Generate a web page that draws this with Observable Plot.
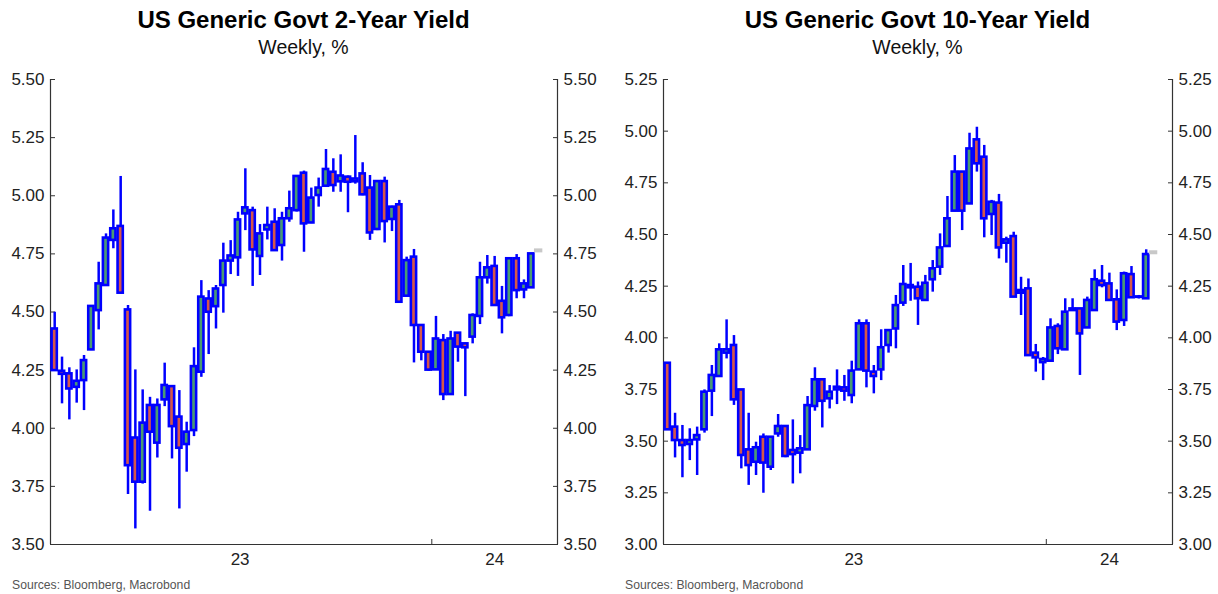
<!DOCTYPE html>
<html><head><meta charset="utf-8">
<script src="https://cdn.jsdelivr.net/npm/d3@7"></script>
<script src="https://cdn.jsdelivr.net/npm/@observablehq/plot@0.6"></script>
<style>
body{margin:0;background:#fff;font-family:"Liberation Sans",Arial,sans-serif;}
#wrap{display:flex;width:1218px;height:594px;overflow:hidden;}
.panel{position:relative;width:609px;height:594px;}
.title{position:absolute;top:6px;height:28px;line-height:28px;font-weight:bold;font-size:24px;text-align:center;color:#000;white-space:nowrap;}
.subtitle{position:absolute;top:35px;height:24px;line-height:24px;font-size:19.5px;text-align:center;color:#111;white-space:nowrap;}
.chart{position:absolute;top:60px;left:0;}
.source{position:absolute;top:578px;font-size:12.2px;color:#555;white-space:nowrap;}
</style></head>
<body><div id="wrap"><div class="panel" id="p2"></div><div class="panel" id="p10"></div></div>
<script>
// ---- data ----
const firstWeek = "2023-01-06";   // weekly candles (Fridays)
const weekCount = 66;
const xStart = "2023-01-02", xEnd = "2024-04-30";
const yearTickDate = "2024-01-01";
const yearLabels = ["23", "24"];
const yearLabelDates = ["2023-07-02", "2024-03-01"];

const open2  = [4.427,4.245,4.234,4.176,4.205,4.337,4.506,4.614,4.808,4.868,4.509,3.958,3.768,4.098,3.936,4.122,4.179,4.048,3.930,3.990,4.241,4.556,4.523,4.614,4.719,4.733,4.922,4.936,4.739,4.853,4.886,4.786,4.901,4.936,5.097,4.883,5.001,5.041,5.101,5.060,5.080,5.060,5.094,5.033,4.855,5.061,4.898,4.961,4.568,4.736,4.442,4.327,4.251,4.377,4.145,4.409,4.363,4.392,4.481,4.647,4.696,4.546,4.485,4.729,4.595,4.604];
const high2  = [4.499,4.306,4.260,4.251,4.313,4.528,4.714,4.836,4.939,5.083,4.528,4.251,4.165,4.133,4.126,4.280,4.180,4.162,4.026,4.346,4.635,4.592,4.614,4.796,4.807,4.929,5.116,4.951,4.876,4.951,4.944,4.929,5.020,5.087,5.106,5.033,5.076,5.199,5.159,5.176,5.085,5.259,5.142,5.087,5.061,5.080,4.955,4.980,4.736,4.769,4.445,4.330,4.481,4.403,4.417,4.411,4.365,4.492,4.714,4.743,4.739,4.610,4.729,4.747,4.638,4.750];
const low2   = [4.245,4.105,4.036,4.108,4.076,4.334,4.423,4.610,4.772,4.578,3.715,3.567,3.760,3.643,3.872,4.093,3.868,3.653,3.811,3.964,4.219,4.317,4.427,4.495,4.661,4.653,4.850,4.610,4.657,4.810,4.764,4.719,4.886,4.930,4.757,4.880,4.951,5.040,5.015,5.015,4.927,5.050,5.000,4.808,4.850,4.797,4.846,4.540,4.565,4.281,4.290,4.245,4.250,4.119,4.143,4.284,4.136,4.363,4.446,4.620,4.528,4.406,4.480,4.557,4.557,4.602];
const close2 = [4.248,4.232,4.169,4.202,4.291,4.524,4.621,4.818,4.858,4.581,3.839,3.768,4.022,3.983,4.098,4.184,4.007,3.914,3.983,4.265,4.564,4.499,4.599,4.719,4.741,4.896,4.948,4.767,4.836,4.872,4.764,4.901,4.944,5.083,4.879,4.990,5.033,5.113,5.044,5.085,5.058,5.072,5.004,4.840,5.061,4.889,4.951,4.542,4.721,4.442,4.327,4.250,4.384,4.145,4.384,4.349,4.346,4.485,4.647,4.690,4.528,4.475,4.729,4.592,4.621,4.750];
const last2 = 4.765;

const open10  = [3.877,3.568,3.503,3.484,3.506,3.555,3.742,3.813,3.926,3.963,3.748,3.458,3.398,3.519,3.374,3.535,3.571,3.455,3.442,3.458,3.668,3.797,3.705,3.748,3.758,3.721,3.845,4.068,3.834,3.845,3.963,4.043,4.168,4.253,4.245,4.181,4.281,4.342,4.442,4.613,4.802,4.648,4.958,4.874,4.597,4.652,4.458,4.490,4.216,4.237,3.926,3.880,3.887,4.055,3.942,4.132,4.140,4.048,4.132,4.274,4.261,4.184,4.084,4.306,4.196,4.189];
const high10  = [3.880,3.635,3.576,3.560,3.568,3.748,3.866,3.971,4.087,4.011,3.750,3.635,3.495,3.535,3.522,3.629,3.575,3.603,3.527,3.716,3.855,3.800,3.769,3.845,3.818,3.887,4.087,4.087,3.866,4.039,4.035,4.205,4.350,4.360,4.270,4.302,4.374,4.503,4.684,4.882,4.805,4.990,5.019,4.931,4.665,4.694,4.487,4.511,4.293,4.285,3.968,3.905,4.092,4.068,4.189,4.189,4.142,4.197,4.329,4.350,4.313,4.232,4.318,4.345,4.205,4.426];
const low10   = [3.553,3.419,3.323,3.406,3.334,3.539,3.619,3.811,3.898,3.673,3.366,3.286,3.334,3.248,3.358,3.519,3.420,3.293,3.342,3.455,3.645,3.564,3.656,3.677,3.693,3.681,3.843,3.758,3.729,3.793,3.926,3.947,4.152,4.177,4.060,4.180,4.221,4.302,4.440,4.610,4.519,4.645,4.802,4.484,4.495,4.382,4.361,4.195,4.108,3.910,3.834,3.793,3.885,3.919,3.940,4.130,3.818,4.045,4.129,4.242,4.180,4.035,4.055,4.192,4.188,4.187];
const close10 = [3.555,3.503,3.479,3.503,3.527,3.737,3.818,3.942,3.942,3.700,3.431,3.382,3.468,3.394,3.519,3.571,3.426,3.435,3.463,3.672,3.797,3.693,3.737,3.761,3.742,3.839,4.068,3.839,3.813,3.952,4.035,4.156,4.258,4.242,4.189,4.264,4.334,4.435,4.576,4.802,4.613,4.914,4.842,4.576,4.656,4.435,4.474,4.197,4.229,3.914,3.903,3.895,4.048,3.947,4.124,4.140,4.019,4.181,4.281,4.253,4.181,4.076,4.310,4.194,4.198,4.403];
const last10 = 4.414;
const markerDates = ["2024-04-08", "2024-04-16"];

const ticks2  = [3.50,3.75,4.00,4.25,4.50,4.75,5.00,5.25,5.50];
const ticks10 = [3.00,3.25,3.50,3.75,4.00,4.25,4.50,4.75,5.00,5.25];

// ---- styling ----
const UP = "#4a9a74", DOWN = "#d5574a", EDGE = "#0000ff", AXIS = "#333";
const parse = d3.utcParse("%Y-%m-%d");
const weeks = d3.range(weekCount).map(i => d3.utcWeek.offset(parse(firstWeek), i));

function panel(el, cfg) {
  const W = 609, H = 512, MT = 19, MB = 28;
  const data = weeks.map((d, i) => ({date: d, open: cfg.open[i], high: cfg.high[i], low: cfg.low[i], close: cfg.close[i]}));
  const pw = W - cfg.ml - cfg.mr;
  const t = document.createElement("div"); t.className = "title"; t.textContent = cfg.title;
  t.style.left = cfg.ml + "px"; t.style.width = pw + "px"; el.appendChild(t);
  const s = document.createElement("div"); s.className = "subtitle"; s.textContent = "Weekly, %";
  s.style.left = cfg.ml + "px"; s.style.width = pw + "px"; el.appendChild(s);
  const fmt = d3.format(".2f");
  const chart = Plot.plot({
    width: W, height: H, marginTop: MT, marginBottom: MB, marginLeft: cfg.ml, marginRight: cfg.mr,
    style: {fontFamily: "'Liberation Sans', Arial, sans-serif", fontSize: "17px", color: "#222", background: "white", overflow: "visible"},
    x: {type: "utc", domain: [parse(xStart), parse(xEnd)]},
    y: {domain: cfg.domain},
    marks: [
      Plot.axisY(cfg.ticks, {anchor: "left", tickSize: 0, tickPadding: 6, tickFormat: fmt, label: null}),
      Plot.axisY(cfg.ticks, {anchor: "right", tickSize: 0, tickPadding: 6, tickFormat: fmt, label: null}),
      Plot.axisY(cfg.ticks, {anchor: "left", tickSize: 5, dx: 5, tickFormat: () => "", label: null, stroke: AXIS}),
      Plot.axisY(cfg.ticks, {anchor: "right", tickSize: 5, dx: -5, tickFormat: () => "", label: null, stroke: AXIS}),
      Plot.axisX([parse(yearTickDate)], {anchor: "bottom", tickSize: 5, dy: -5, tickFormat: () => "", label: null, stroke: AXIS}),
      Plot.text(yearLabels.map((l, i) => ({label: l, date: parse(yearLabelDates[i])})), {x: "date", text: "label", frameAnchor: "bottom", dy: 20, fill: "#222"}),
      Plot.ruleX([parse(xStart), parse(xEnd)], {stroke: AXIS, strokeWidth: 1.2}),
      Plot.ruleY([cfg.domain[0]], {stroke: AXIS, strokeWidth: 1.2}),
      Plot.ruleX(data, {x: "date", y1: "low", y2: "high", stroke: EDGE, strokeWidth: 2.5}),
      Plot.rect(data, {
        x1: d => d3.utcHour.offset(d.date, -60), x2: d => d3.utcHour.offset(d.date, 60),
        y1: "open", y2: "close",
        fill: d => d.close >= d.open ? UP : DOWN, stroke: EDGE, strokeWidth: 2.6
      }),
      Plot.ruleY([{y: cfg.last, a: parse(markerDates[0]), b: parse(markerDates[1])}], {x1: "a", x2: "b", y: "y", stroke: "#c8c8c8", strokeWidth: 4})
    ]
  });
  chart.classList.add("chart");
  el.appendChild(chart);
  const src = document.createElement("div"); src.className = "source"; src.textContent = "Sources: Bloomberg, Macrobond";
  src.style.left = cfg.srcLeft + "px"; el.appendChild(src);
}

panel(document.getElementById("p2"), {
  title: "US Generic Govt 2-Year Yield", open: open2, high: high2, low: low2, close: close2,
  domain: [3.5, 5.5], ticks: ticks2, last: last2, ml: 50, mr: 52, srcLeft: 12
});
panel(document.getElementById("p10"), {
  title: "US Generic Govt 10-Year Yield", open: open10, high: high10, low: low10, close: close10,
  domain: [3.0, 5.25], ticks: ticks10, last: last10, ml: 54, mr: 46, srcLeft: 16
});
</script></body></html>
